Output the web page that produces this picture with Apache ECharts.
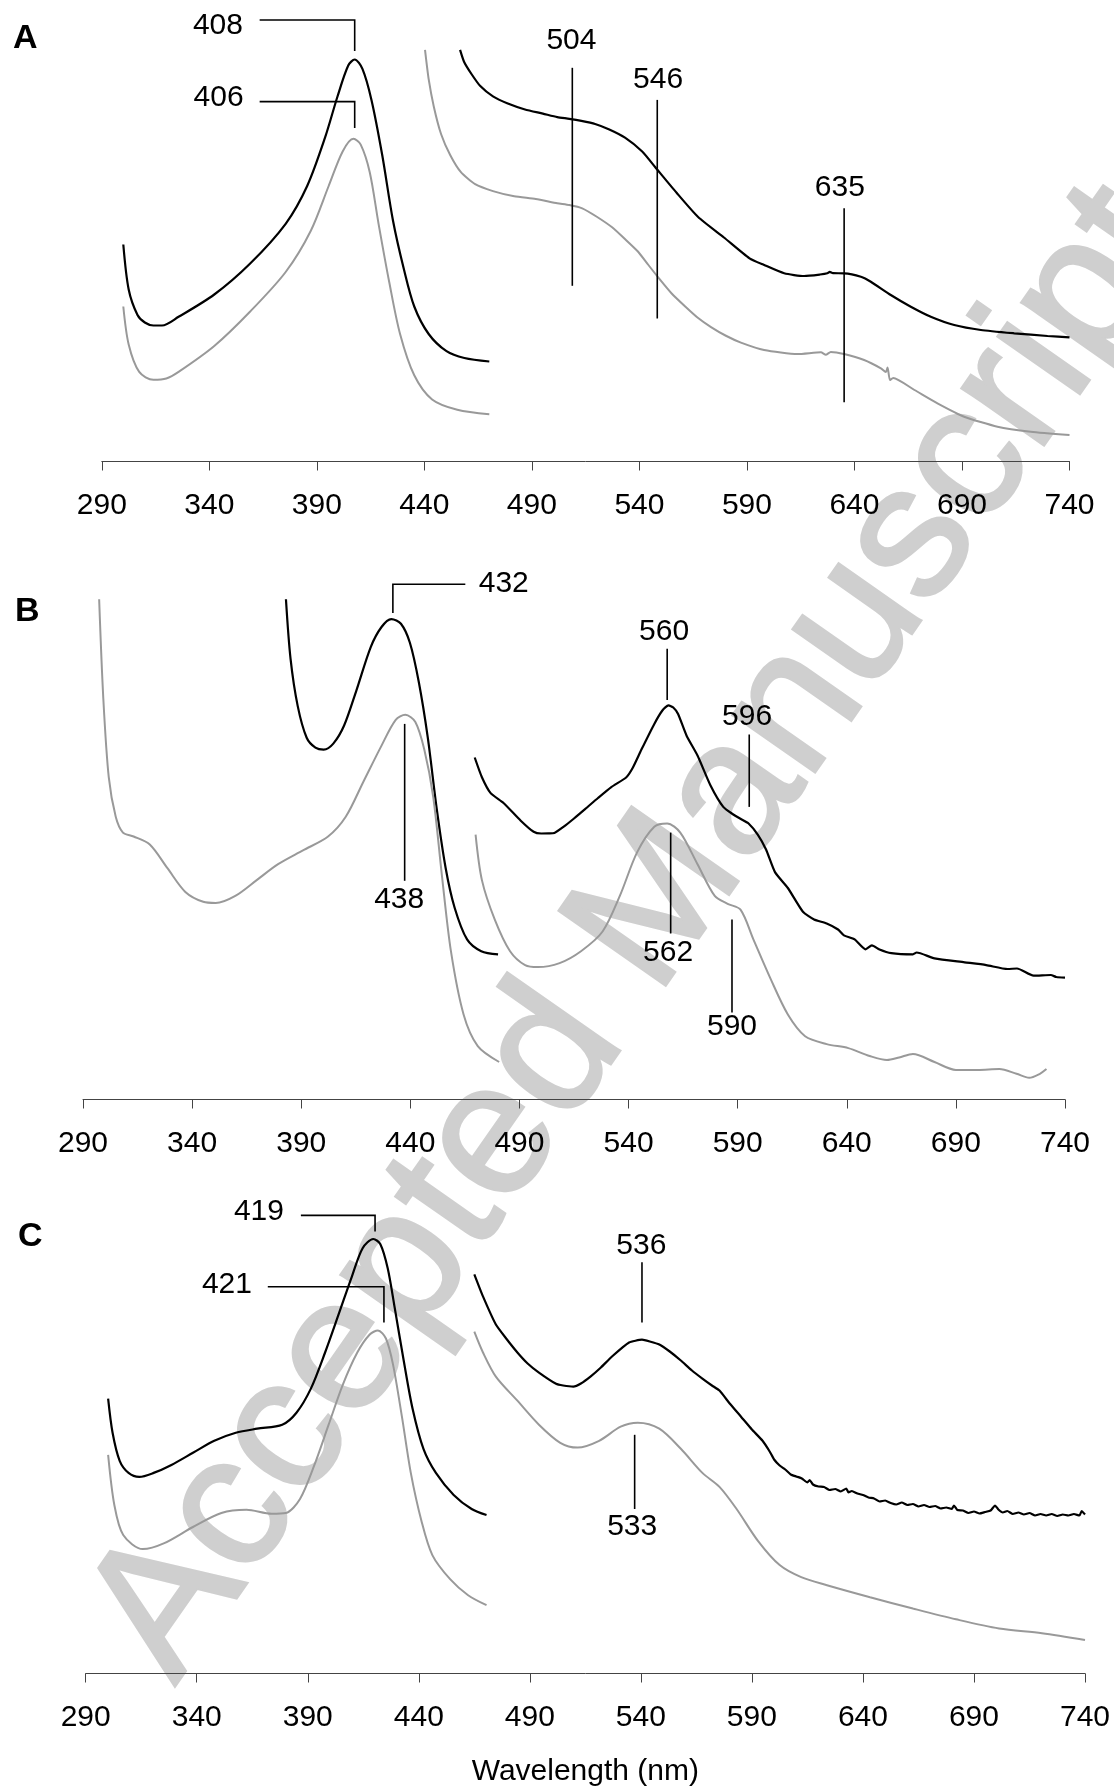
<!DOCTYPE html>
<html>
<head>
<meta charset="utf-8">
<script src="https://cdn.jsdelivr.net/npm/echarts@6/dist/echarts.min.js"></script>
<style>
  html, body { margin: 0; padding: 0; background: #fff; }
  #main { width: 1114px; height: 1789px; }
</style>
</head>
<body>
<div id="main"></div>
<script>
var FONT = '"Liberation Sans", Arial, Helvetica, sans-serif';

// wavelength ticks (nm)
var ticks = [290, 340, 390, 440, 490, 540, 590, 640, 690, 740];

// absorbance in arbitrary units (offset spectra), [nm, A]
// panel A
var aBlackL = [[300,217],[302.5,172],[306.6,146.5],[310,139],[314,136],[318,136],[325.7,144.7],[342.3,167],[359,198],[375.5,237.7],[385.5,275.5],[393.8,323.8],[399.6,365],[404.6,396],[407.6,402],[411.2,392.6],[415.4,361.6],[420.4,306.5],[425.4,241],[430.4,193],[435.3,155],[442,127.5],[450.3,110.3],[458.6,103.5],[470.2,100]];
var aGrayL = [[300,155],[302.5,117],[307.4,89.6],[314,81.7],[320,83],[325.7,89.6],[342.3,115.5],[359,150],[375.5,189.5],[387.2,230.8],[395.5,275.5],[402,310],[407,322.7],[410.4,316.9],[414.6,289.3],[418.7,237.7],[423.7,179],[428.7,127.5],[435.3,86.2],[443.6,62],[455.3,51.7],[470.2,47.2]];
var aBlackR = [[456.6,411.6],[458.5,399.5],[461.9,387.5],[466,375.4],[471.9,365.1],[478.5,358.2],[486.8,352],[495.1,347.9],[501.8,344.4],[507.4,342.7],[513,340.6],[519.4,337.5],[526,332],[533.3,323.8],[541.3,310],[547.3,294.5],[557.3,268.7],[567.3,244.5],[579.3,224],[591.2,203.2],[598,196.5],[607.3,188.2],[616.6,185.5],[624,187],[627.4,188.2],[628.5,189.6],[630,188.3],[635.2,188.2],[643,184.8],[647.6,179.8],[656.9,166.5],[666.2,154.8],[675.5,144.8],[686.4,136.5],[698.8,131.5],[714.3,128.2],[729.8,125.5],[740,124.2]];
var aGrayR = [[440.3,411.6],[442,382.3],[444.4,354.8],[447.8,327.2],[452,306.5],[457,289.3],[463.6,277.3],[471.9,270.4],[481.8,265.2],[491.8,262.5],[501.8,258.3],[507.4,256.5],[513.4,253.2],[520,245],[527.3,234.2],[533,223],[539.3,210],[544,197],[549.3,182.6],[555,168],[561.3,155],[567,144],[573.3,134.4],[580,126],[587.2,118.9],[598,111.5],[613.5,107.5],[624.4,109.2],[626.7,106.8],[629,109.6],[635.2,107.5],[644.5,101.5],[652.3,93.2],[654.6,89.5],[655.4,94],[656.5,81.5],[658,83.5],[667.9,71.5],[678.6,58.2],[691,44.8],[706.5,34.8],[722,29.8],[740,26.5]];

// panel B
var bBlackL = [[383,500.2],[385.1,440.9],[388.4,393.4],[392.5,361.8],[396.5,351.9],[400.3,349.9],[404.7,355.9],[409.6,373.7],[415.3,409.2],[421.9,452.7],[426.8,472.5],[431.3,480.4],[435.7,475.7],[439.8,456.7],[443.9,417.2],[448,361.8],[452.1,290.6],[456.2,231.3],[460.3,191.8],[466,160.1],[472.5,148.3],[480.2,145.1]];
var bGrayL = [[297.4,500.2],[299.3,401.3],[301.8,322.3],[305,282.7],[308.3,266.9],[313.2,263],[320.6,255],[328.7,231.3],[336.9,207.6],[345.1,197.7],[350.8,196.5],[359.8,203.6],[369.6,219.4],[379.4,235.3],[390.8,249.1],[402.3,263],[410.4,282.7],[418.6,318.3],[426.8,353.9],[433.3,379.6],[437.7,384.7],[442.3,377.6],[446.4,350],[450.5,302.5],[454.5,223.4],[458.6,148.3],[464.4,85],[470.9,53.4],[480.7,37.5]];
var bBlackR = [[469.5,342],[472.8,322.3],[476.8,306.4],[482.7,296.5],[490.6,278.8],[496.5,267.7],[500,266],[503.4,266.1],[506,266.5],[510.3,272.8],[515,281],[520.2,290.6],[526,301.5],[532.1,312.4],[539,322.3],[542,332],[545.9,349.9],[551.8,375.6],[555.5,389],[558.3,394.2],[560.5,392],[562.7,385.5],[566.6,363.8],[571.6,344],[577.5,314.3],[583.4,292.6],[588,285],[591.3,280.7],[595,276],[599.2,264.9],[603,250],[607.1,227.4],[613,211.5],[619.9,187.8],[625,180],[630.8,176],[636,170],[638.7,164.1],[643.6,160.1],[648.6,150.2],[651.5,154.2],[655,150],[660.4,146.3],[670.3,145.1],[672,147],[680.2,141.1],[694,137.2],[703.9,134.4],[713.7,130.5],[718,131],[725.6,123.8],[733.5,124.5],[736,122.5],[740,121.8]];
var bGrayR = [[469.9,264.9],[472.8,219.4],[478.7,179.9],[485.7,148.3],[492.6,134.4],[498.5,132.4],[508.4,136.4],[518.2,148.3],[528.1,168],[536,203.6],[543.9,247.1],[551.8,272.8],[557.7,276],[563.7,266.9],[571.6,235.3],[579.5,203.6],[585.4,195.7],[591.3,189.8],[597.2,160.1],[605.1,120.6],[613,85],[620.9,63.3],[630.8,55.4],[640.7,51.4],[650.5,43.5],[658.4,39.5],[664,42],[670.3,45.5],[680.2,37.5],[690,29.6],[700,29.6],[709.9,30.4],[717.8,25.7],[723.6,21.7],[728.5,25.7],[731.5,30.4]];

// panel C
var cBlackL = [[300.1,274.8],[302.1,240.7],[305.3,212.7],[309.3,200.6],[314.1,196.6],[320.6,200.6],[328.6,208.6],[338.3,220.7],[347.9,232.7],[357.6,240.7],[367.2,244.8],[378.5,248.8],[384.9,260.8],[391.4,284.9],[397.8,321],[404.2,361.1],[409.9,397.2],[414.7,425.3],[419.5,434.5],[422.7,429.3],[426,405.2],[429.2,365.1],[433.2,313],[437.2,264.8],[442.1,224.7],[447.7,200.6],[455.7,178.6],[463.8,164.5],[470.5,158.5]];
var cGrayL = [[300.1,218.7],[302.9,168.5],[306.9,138.5],[315.7,124.4],[325.4,130.4],[338.3,146.5],[351.1,160.5],[362.4,163.7],[373.7,159.7],[380.1,160.5],[386.5,174.5],[393,208.6],[399.4,248.8],[405.8,288.9],[412.3,321],[417.9,339],[421.6,343],[425.2,335],[428.4,308.9],[432.4,256.8],[436.4,200.6],[441.2,152.5],[446.1,118.4],[454.1,94.3],[462.2,78.3],[470.5,68.3]];
var cBlackR = [[465,399.2],[468.9,377.1],[474.7,349],[479,336],[484.4,321],[489,310],[494.1,300.9],[501.8,289.7],[505,288],[509.6,286.9],[513,290],[517.3,296.9],[522,306],[527,317],[534.7,331],[540.5,333.8],[544,332],[548.3,329],[553,322],[558,313],[563,303],[567.7,294.9],[572,288],[575.4,282.9],[580,270],[585.1,256.8],[590,244],[594.8,232.7],[598,222],[600,214],[602.5,208],[605,204],[607.5,199],[610,197],[612.5,195],[615,191],[616,193.5],[617.5,189],[620,187],[622.5,186.5],[625,183.5],[627.5,184.5],[630,182],[632.5,185],[633.5,181],[635,182.5],[637.5,180],[640,178.5],[642.5,176],[645,175],[647.5,172],[650,173],[652.5,170.5],[655,169],[657.5,171],[660,168.5],[662.5,169.5],[665,167],[667.5,168.5],[670,166.5],[672.5,167.5],[675,165],[677.5,166],[680,164.5],[681,168],[682.5,163.5],[685,163],[687.5,160.5],[690,162],[692.5,160],[695,161.5],[697.5,163],[699.5,168],[701,164],[703,161],[705,162.5],[707.5,159.5],[710,161],[712.5,159],[715,160.5],[717.5,158],[720,159.5],[722.5,158],[725,159.5],[727.5,157.5],[730,159],[732.5,158],[735,159.5],[737.5,158],[738.5,162.5],[740,159]];
var cGrayR = [[465,341.8],[468.9,321],[474.7,296.9],[484.4,272.8],[494.1,248.8],[503.7,230.7],[511.5,225.9],[521.2,232.7],[530.9,246.8],[538.6,250.8],[548.3,244.8],[558,224.7],[567.7,200.6],[575.4,186.6],[583.1,164.5],[592.8,132.4],[602.5,108.4],[612.2,96.3],[623.8,88.3],[643.2,76.3],[662.5,65],[681.9,54.2],[701.3,45],[720.6,40.2],[740,33.4]];

// peak annotations: label, leader path and label anchor, all in [nm, A]
var annA = [
  { label: '408', path: [[363.4,441.5],[407.6,441.5],[407.6,410.5]], at: [344,435.7] },
  { label: '406', path: [[363.4,359.9],[407.6,359.9],[407.6,333.5]], at: [344.3,363.5] },
  { label: '504', path: [[508.8,393.7],[508.8,175.7]], at: [508.4,420.9] },
  { label: '546', path: [[548.3,361.6],[548.3,143]], at: [548.7,381.6] },
  { label: '635', path: [[635.2,253.2],[635.2,59.3]], at: [633.2,273.8] }
];
var annB = [
  { label: '432', path: [[432,486.4],[432,515.2],[465.2,515.2]], at: [482.8,515.8] },
  { label: '438', path: [[437.4,375.6],[437.4,218.7]], at: [434.9,199.7] },
  { label: '560', path: [[557.7,450.8],[557.7,399.4]], at: [556.3,467.8] },
  { label: '596', path: [[595.3,365],[595.3,292.6]], at: [594.3,382.8] },
  { label: '562', path: [[559.3,266.9],[559.3,166]], at: [558.1,146.3] },
  { label: '590', path: [[587.4,179.9],[587.4,87]], at: [587.4,72.4] }
];
var annC = [
  { label: '419', path: [[386.9,458.1],[420.3,458.1],[420.3,442.1]], at: [368,461.4] },
  { label: '421', path: [[372,386.7],[424.3,386.7],[424.3,351]], at: [353.6,388.4] },
  { label: '536', path: [[540.5,411.2],[540.5,351]], at: [540.2,428] },
  { label: '533', path: [[537.2,238.7],[537.2,164.5]], at: [536.1,146.5] }
];

var chart = echarts.init(document.getElementById('main'));

function xAx(idx, withName) {
  var ax = {
    gridIndex: idx,
    type: 'value',
    min: ticks[0],
    max: ticks[ticks.length - 1],
    interval: ticks[1] - ticks[0],
    splitLine: { show: false },
    axisLine: { lineStyle: { color: '#444', width: 1 } },
    axisTick: { length: 9, lineStyle: { color: '#444', width: 1 } },
    axisLabel: { margin: 29, fontSize: 30, color: '#000', fontFamily: FONT }
  };
  if (withName) {
    ax.name = 'Wavelength (nm)';
    ax.nameLocation = 'middle';
    ax.nameGap = 83;
    ax.nameTextStyle = { fontSize: 30, color: '#000', fontFamily: FONT };
  }
  return ax;
}
function yAx(idx, max) {
  return { gridIndex: idx, type: 'value', min: 0, max: max, show: false };
}
function curve(idx, data, color, w, smooth) {
  return {
    type: 'line', xAxisIndex: idx, yAxisIndex: idx, data: data,
    showSymbol: false, smooth: smooth, z: 3,
    lineStyle: { color: color, width: w }
  };
}
function annot(idx, list) {
  return {
    type: 'custom', xAxisIndex: idx, yAxisIndex: idx, clip: false, z: 4,
    data: list.map(function (a) { return a.at; }),
    renderItem: function (params, api) {
      var a = list[params.dataIndex];
      var pts = a.path.map(function (p) { return api.coord(p); });
      var t = api.coord(a.at);
      return {
        type: 'group',
        children: [
          { type: 'polyline', shape: { points: pts }, style: { stroke: '#000', lineWidth: 1.6, fill: null } },
          { type: 'text', x: t[0], y: t[1], style: { text: a.label, fill: '#000', fontSize: 30, fontFamily: FONT, align: 'center', verticalAlign: 'middle' } }
        ]
      };
    }
  };
}

var letterStyle = { fontSize: 34, fontWeight: 'bold', color: '#000', fontFamily: FONT };

// watermark: baseline starts near (180,1690), rising at 55 degrees
var wmAngle = 55 * Math.PI / 180;
var wmSize = 189;
var wmX = 180 - Math.sin(wmAngle) * 0.31 * wmSize;
var wmY = 1690 - Math.cos(wmAngle) * 0.31 * wmSize;

var option = {
  backgroundColor: '#fff',
  animation: false,
  title: [
    { text: 'A', left: 13, top: 22, padding: 0, textStyle: letterStyle },
    { text: 'B', left: 15, top: 595, padding: 0, textStyle: letterStyle },
    { text: 'C', left: 18, top: 1220, padding: 0, textStyle: letterStyle }
  ],
  graphic: [{
    type: 'text', z: -10, x: wmX, y: wmY, rotation: wmAngle,
    style: {
      text: 'Accepted Manuscript', fontSize: wmSize, fontFamily: FONT,
      fill: '#cfcfcf', stroke: '#cfcfcf', lineWidth: 3,
      align: 'left', verticalAlign: 'middle'
    }
  }],
  grid: [
    { left: 101.8, top: 11.5, width: 967.7, height: 450 },
    { left: 83, top: 559.5, width: 982, height: 540 },
    { left: 85.7, top: 1153.5, width: 999.3, height: 520 }
  ],
  xAxis: [xAx(0, false), xAx(1, false), xAx(2, true)],
  yAxis: [yAx(0, 450), yAx(1, 540), yAx(2, 520)],
  series: [
    curve(0, aBlackL, '#000', 2.2, 0.3),
    curve(0, aGrayL, '#999', 2, 0.3),
    curve(0, aBlackR, '#000', 2.2, 0.2),
    curve(0, aGrayR, '#999', 2, 0.2),
    annot(0, annA),
    curve(1, bBlackL, '#000', 2.2, 0.3),
    curve(1, bGrayL, '#999', 2, 0.3),
    curve(1, bBlackR, '#000', 2.2, 0.2),
    curve(1, bGrayR, '#999', 2, 0.3),
    annot(1, annB),
    curve(2, cBlackL, '#000', 2.2, 0.3),
    curve(2, cGrayL, '#999', 2, 0.3),
    curve(2, cBlackR, '#000', 2.2, 0.15),
    curve(2, cGrayR, '#999', 2, 0.3),
    annot(2, annC)
  ]
};

chart.setOption(option);
</script>
</body>
</html>
